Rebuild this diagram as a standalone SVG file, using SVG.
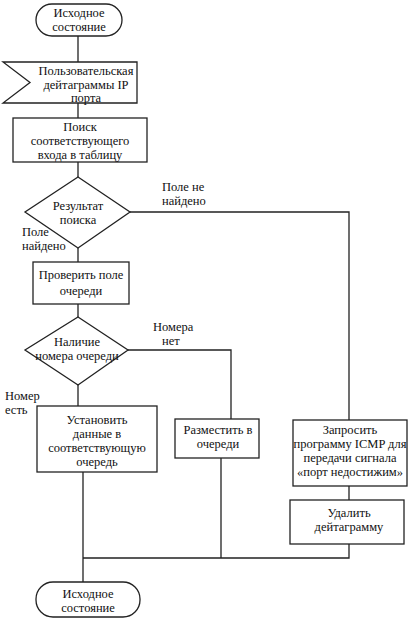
<svg xmlns="http://www.w3.org/2000/svg" width="413" height="620" viewBox="0 0 413 620">
<style>
.s{fill:#fff;stroke:#222;stroke-width:1.3}
.c{fill:none;stroke:#222;stroke-width:1.3}
text{font-family:"Liberation Serif","Times New Roman",serif;font-size:12.5px;fill:#111}
.m{text-anchor:middle}
</style>
<rect width="413" height="620" fill="#fff"/>
<g id="connectors">
<path class="c" d="M78 36V62M78 103V118M78 162V177M78 248V262M78 304V317M78 385V406"/>
<path class="c" d="M130 212H349V420M349 486V500M349 544V558H83"/>
<path class="c" d="M128 350H231V419M221 458V558M83 472V582"/>
</g>
<g id="start">
<rect class="s" x="36" y="4" width="86" height="32" rx="16"/>
<text class="m" x="79" y="17">Исходное</text>
<text class="m" x="79" y="31">состояние</text>
</g>
<g id="input">
<path class="s" d="M3 62H137V103H3L30 82.5Z"/>
<text class="m" x="86" y="75">Пользовательская</text>
<text class="m" x="86" y="89">дейтаграммы IP</text>
<text class="m" x="86" y="102">порта</text>
</g>
<g id="search">
<rect class="s" x="13" y="118" width="134" height="44"/>
<text class="m" x="80" y="131">Поиск</text>
<text class="m" x="80" y="145">соответствующего</text>
<text class="m" x="80" y="159">входа в таблицу</text>
</g>
<g id="result">
<path class="s" d="M78 177L130 212L78 248L25 212Z"/>
<text class="m" x="78" y="210">Результат</text>
<text class="m" x="78" y="224">поиска</text>
</g>
<text x="162" y="191">Поле  не</text>
<text x="162" y="205">найдено</text>
<text x="22" y="236">Поле</text>
<text x="22" y="250">найдено</text>
<g id="check">
<rect class="s" x="33" y="262" width="96" height="42"/>
<text class="m" x="81" y="279">Проверить  поле</text>
<text class="m" x="81" y="295">очереди</text>
</g>
<g id="queue">
<path class="s" d="M78 317L128 350L78 385L25 350Z"/>
<text class="m" x="77" y="346">Наличие</text>
<text class="m" x="77" y="360">номера очереди</text>
</g>
<text x="153" y="331">Номера</text>
<text x="162" y="345">нет</text>
<text x="5" y="400">Номер</text>
<text x="5" y="414">есть</text>
<g id="set">
<rect class="s" x="37" y="406" width="120" height="66"/>
<text class="m" x="97" y="424">Установить</text>
<text class="m" x="97" y="438">данные в</text>
<text class="m" x="97" y="452">соответствующую</text>
<text class="m" x="97" y="466">очередь</text>
</g>
<g id="place">
<rect class="s" x="175" y="419" width="84" height="39"/>
<text class="m" x="218" y="434">Разместить в</text>
<text class="m" x="218" y="448">очереди</text>
</g>
<g id="icmp">
<rect class="s" x="293" y="420" width="114" height="66"/>
<text class="m" x="350" y="434">Запросить</text>
<text class="m" x="350" y="448">программу ICMP для</text>
<text class="m" x="350" y="462">передачи сигнала</text>
<text class="m" x="350" y="476">«порт  недостижим»</text>
</g>
<g id="delete">
<rect class="s" x="290" y="500" width="114" height="44"/>
<text class="m" x="349" y="517">Удалить</text>
<text class="m" x="349" y="531">дейтаграмму</text>
</g>
<g id="end">
<rect class="s" x="36" y="582" width="104" height="35" rx="17"/>
<text class="m" x="88" y="598">Исходное</text>
<text class="m" x="88" y="612">состояние</text>
</g>
</svg>
